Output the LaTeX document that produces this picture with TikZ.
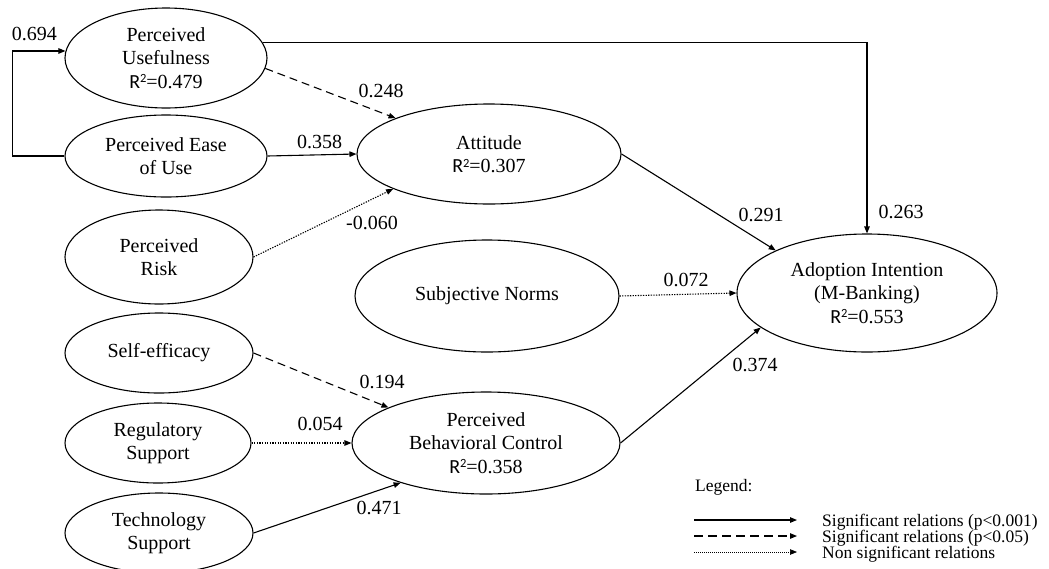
\documentclass[tikz,border=0pt]{standalone}
\usepackage{fontspec}
\setmainfont{Liberation Serif}
\newfontfamily\rfont{Carlito}
\usetikzlibrary{shapes.geometric,arrows.meta}
\newcommand{\rsq}{{\rfont R\raisebox{5.5pt}{\fontsize{12.5}{12.5}\selectfont 2}}}
\begin{document}
\begin{tikzpicture}[x=1pt,y=-1pt,
  lv/.style={ellipse,draw,line width=1.1pt,inner sep=0pt,align=center,font=\fontsize{20}{23.5}\selectfont},
  lbl/.style={font=\fontsize{20}{24}\selectfont,inner sep=0pt},
  legtext/.style={font=\fontsize{17.5}{20}\selectfont,inner sep=0pt,anchor=base west},
  conn/.style={line width=1.1pt,-{Triangle[length=7pt,width=5.5pt]}},
  sigone/.style={conn},
  sigfive/.style={conn,dash pattern=on 8pt off 5pt},
  nsig/.style={conn,dash pattern=on 1.3pt off 1.3pt},
]
\useasboundingbox (0,0) rectangle (1049,568);
\clip (0,0) rectangle (1049,568);

% latent variables
\node[lv,minimum width=202pt,minimum height=100pt] (pu) at (166,58) {Perceived\\Usefulness\\\rsq=0.479};
\node[lv,minimum width=202pt,minimum height=82pt] (peou) at (166,156) {Perceived Ease\\of Use};
\node[lv,minimum width=188pt,minimum height=94pt] (pr) at (159,257) {Perceived\\Risk};
\node[lv,minimum width=188pt,minimum height=80pt] (se) at (159,353) {Self-efficacy};
\node[lv,minimum width=186pt,minimum height=80pt] (rs) at (158,443) {Regulatory\\Support};
\node[lv,minimum width=188pt,minimum height=80pt] (ts) at (159,533) {Technology\\Support};
\node[lv,minimum width=264pt,minimum height=100pt] (att) at (489,154) {Attitude\\\rsq=0.307};
\node[lv,minimum width=264pt,minimum height=112pt] (sn) at (487,296) {Subjective Norms};
\node[lv,minimum width=268pt,minimum height=102pt] (pbc) at (486,443) {Perceived\\Behavioral Control\\\rsq=0.358};
\node[lv,minimum width=260pt,minimum height=118pt] (ai) at (867,293) {Adoption Intention\\(M-Banking)\\\rsq=0.553};

% paths
\draw[sigone] (pu.9) -| (ai.north);
\draw[sigone] (peou.west) -- ++(-52,0) |- (pu.176);
\draw[sigfive] (pu.-6) -- (att.159);
\draw[sigone] (peou.east) -- (att.west);
\draw[nsig] (pr.east) -- (att.200);
\draw[sigone] (att.east) -- (ai.155);
\draw[nsig] (sn.east) -- (ai.west);
\draw[sigone] (pbc.east) -- (ai.198);
\draw[sigfive] (se.east) -- (pbc.160);
\draw[nsig] (rs.east) -- (pbc.west);
\draw[sigone] (ts.east) -- (pbc.205);

% coefficients
\node[lbl] (c694) at (34.5,34) {0.694};
\node[lbl] (c248) at (381,91) {0.248};
\node[lbl] (c358) at (319.5,142) {0.358};
\node[lbl] (c060) at (372,223) {-0.060};
\node[lbl] (c291) at (761,215) {0.291};
\node[lbl] (c263) at (901,212) {0.263};
\node[lbl] (c072) at (686,280) {0.072};
\node[lbl] (c374) at (755,365) {0.374};
\node[lbl] (c194) at (382,382) {0.194};
\node[lbl] (c054) at (320,424) {0.054};
\node[lbl] (c471) at (379,508) {0.471};

% legend
\node[legtext] (leg) at (695,491) {Legend:};
\coordinate (la1) at (694,520); \coordinate (lb1) at (797,520);
\coordinate (la2) at (694,536); \coordinate (lb2) at (797,536);
\coordinate (la3) at (694,552); \coordinate (lb3) at (797,552);
\draw[sigone] (la1) -- (lb1);
\draw[conn,dash pattern=on 9pt off 5pt] (la2) -- (lb2);
\draw[conn,line width=0.7pt,dash pattern=on 1pt off 1pt] (la3) -- (lb3);
\node[legtext] (lt1) at (822,526) {Significant relations (p<0.001)};
\node[legtext] (lt2) at (822,542) {Significant relations (p<0.05)};
\node[legtext] (lt3) at (822,558) {Non significant relations};
\end{tikzpicture}
\end{document}
